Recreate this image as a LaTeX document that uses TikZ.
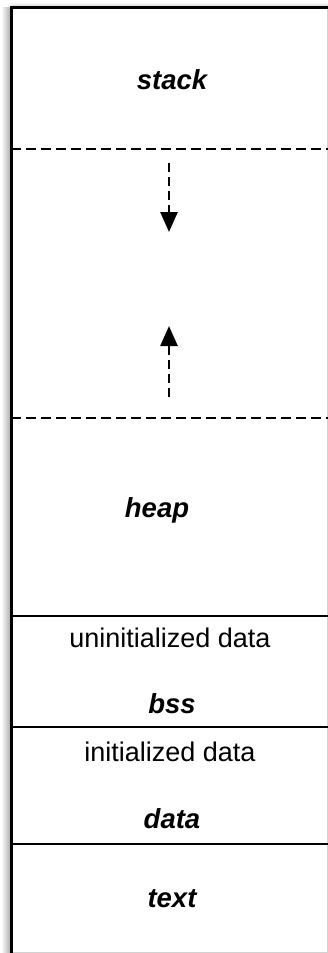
\documentclass[tikz,border=0pt]{standalone}
\usepackage{fontspec}
\setmainfont{Liberation Sans}
\usetikzlibrary{arrows.meta}
\begin{document}
\begin{tikzpicture}[x=1pt,y=-1pt,
  seg/.style={font=\fontsize{27.5}{30}\selectfont\bfseries\itshape, anchor=base, inner sep=0pt},
  desc/.style={font=\fontsize{27}{30}\selectfont, anchor=base, inner sep=0pt},
  solidsep/.style={line width=2.6pt},
  dashsep/.style={line width=2.6pt, dash pattern=on 10pt off 5pt},
  growarrow/.style={line width=2.6pt, dash pattern=on 9pt off 5pt, -{Triangle[width=17pt,length=20pt]}}]
\useasboundingbox (0,0) rectangle (328,953);
\fill[white] (0,0) rectangle (328,953);
\shade[left color=white, right color=black!30] (1,7) rectangle (10,953);
\shade[top color=white, bottom color=black!15] (11,2) rectangle (328,6);
% outer box
\draw[gray!35, line width=1pt] (327,7) -- (327,952) -- (11,952);
\draw[line width=3pt] (11,953) -- (11,7) -- (328,7);
% separators
\draw[dashsep] (11,149) -- (328,149);
\draw[dashsep] (11,418) -- (328,418);
\draw[solidsep] (11,616) -- (328,616);
\draw[solidsep] (11,727) -- (328,727);
\draw[solidsep] (11,844) -- (328,844);
% labels
\node[seg] (stack) at (172,89) {stack};
\node[seg] (heap) at (157,517) {heap};
\node[desc] (uninit) at (170,647) {uninitialized data};
\node[seg] (bss) at (172,713) {bss};
\node[desc] (init) at (170,761) {initialized data};
\node[seg] (data) at (172,828) {data};
\node[seg] (text) at (172,907) {text};
% growth arrows
\coordinate (downs) at (169,163);
\coordinate (downe) at (169,232);
\coordinate (ups) at (169,397);
\coordinate (upe) at (169,326);
\draw[growarrow] (downs) -- (downe);
\draw[growarrow] (ups) -- (upe);
\end{tikzpicture}
\end{document}
